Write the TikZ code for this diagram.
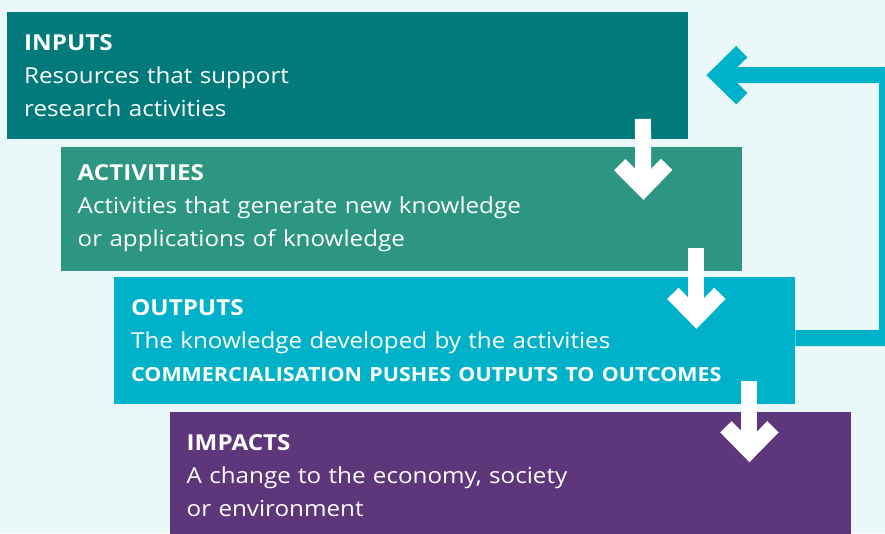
\documentclass[tikz,border=0pt]{standalone}
\usepackage{fontspec}
\setmainfont{Open Sans}[FakeStretch=1.1]
\usetikzlibrary{arrows.meta,positioning}

\definecolor{bgcol}{HTML}{EAF8F9}
\definecolor{inputcol}{HTML}{007A7A}
\definecolor{activitycol}{HTML}{2C9682}
\definecolor{outputcol}{HTML}{00B2C9}
\definecolor{impactcol}{HTML}{5E367C}

\begin{document}
\begin{tikzpicture}[
        x=1pt, y=1pt,
        box/.style={rectangle, draw=none, anchor=north west, align=left, text=white,
            minimum width=681pt, minimum height=127pt, text width=647pt, inner xsep=17pt,
            font=\fontsize{22}{33}\selectfont},
        downarrow/.style={white, line width=16pt, -{Straight Barb[sharp, length=24pt, width=47pt]}},
        feedback/.style={outputcol, line width=16pt, line join=miter, -{Straight Barb[sharp, length=24pt, width=47pt]}}
    ]
        \clip (0,0) rectangle (885,533);
        \fill[bgcol] (0,0) rectangle (885,533);

        \node[box, fill=inputcol] (inputs) at (7,521.5) {\textbf{INPUTS}\\Resources that support\\research activities};
        \node[box, fill=activitycol, below=7.5pt of inputs.south west, anchor=north west, xshift=53.5pt, minimum height=124pt] (activities) {\textbf{ACTIVITIES}\\Activities that generate new knowledge\\or applications of knowledge};
        \node[box, fill=outputcol, below=6pt of activities.south west, anchor=north west, xshift=53.5pt] (outputs) {\textbf{OUTPUTS}\\The knowledge developed by the activities\\{\fontsize{19.5}{33}\selectfont\bfseries COMMERCIALISATION PUSHES OUTPUTS TO OUTCOMES}};
        \node[box, fill=impactcol, below=8pt of outputs.south west, anchor=north west, xshift=55.5pt] (impacts) {\textbf{IMPACTS}\\A change to the economy, society\\or environment};

        \coordinate (loopcorner) at (887,458);

        \draw[downarrow] ([shift={(-45.5pt,20pt)}]inputs.south east) -- ([shift={(-98.5pt,-53.5pt)}]activities.north east);
        \draw[downarrow] ([shift={(-45.5pt,22.5pt)}]activities.south east) -- ([shift={(-99pt,-52pt)}]outputs.north east);
        \draw[downarrow] ([shift={(-46pt,23pt)}]outputs.south east) -- ([shift={(-101.5pt,-50pt)}]impacts.north east);

        \draw[feedback] ([yshift=2.5pt]outputs.east) -| (loopcorner) -- ([xshift=18pt]inputs.east);
    \end{tikzpicture}
\end{document}
